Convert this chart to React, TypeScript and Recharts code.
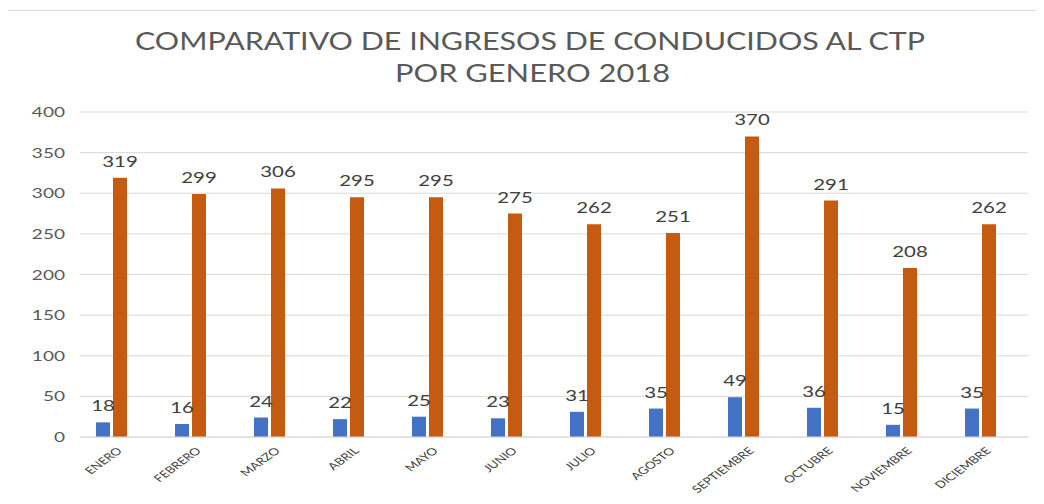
import React from 'react';
import { BarChart, Bar, XAxis, YAxis, CartesianGrid, LabelList } from 'recharts';

const meses = ['ENERO', 'FEBRERO', 'MARZO', 'ABRIL', 'MAYO', 'JUNIO', 'JULIO', 'AGOSTO', 'SEPTIEMBRE', 'OCTUBRE', 'NOVIEMBRE', 'DICIEMBRE'];
const mujeres = [18, 16, 24, 22, 25, 23, 31, 35, 49, 36, 15, 35];
const hombres = [319, 299, 306, 295, 295, 275, 262, 251, 370, 291, 208, 262];
const otros = [1, 1, 1, 1, 1, 1, 1, 1, 1, 1, 1, 1];
const yTicks = [0, 50, 100, 150, 200, 250, 300, 350, 400];

const data = meses.map((mes, i) => ({ mes, mujeres: mujeres[i], hombres: hombres[i], otros: otros[i] }));

const FONT = 'Lato, "Open Sans", sans-serif';
const STRETCH = 1.36;

const YTick = ({ x, y, payload }: any) => (
  <text
    transform={`translate(${x},${y}) scale(${STRETCH},1)`}
    textAnchor="end"
    dy="0.36em"
    fill="#595959"
    fontSize={14}
    fontFamily={FONT}
  >
    {payload.value}
  </text>
);

const XTick = ({ x, y, payload }: any) => (
  <text
    transform={`translate(${x},${y}) scale(${STRETCH},1) rotate(-45)`}
    textAnchor="end"
    dy="0.35em"
    fill="#404040"
    fontSize={10}
    fontFamily={FONT}
  >
    {payload.value}
  </text>
);

const ValueLabel = ({ x, y, width, value }: any) => {
  const cx = Number(x) + Number(width) / 2;
  const ty = Number(y) - 11;
  return (
    <text
      transform={`translate(${cx},${ty}) scale(${STRETCH},1)`}
      textAnchor="middle"
      fill="#404040"
      fontSize={15}
      fontFamily={FONT}
    >
      {value}
    </text>
  );
};

export default function App() {
  return (
    <div
      style={{
        position: 'relative',
        top: 2,
        left: -1,
        width: 1040,
        height: 500,
        border: '1px solid #D9D9D9',
        background: '#fff',
      }}
    >
      <svg width={1040} height={100} style={{ position: 'absolute', left: 0, top: 0 }}>
        <text x={127} y={39} textLength={790} lengthAdjust="spacingAndGlyphs" fill="#595959" fontSize={25} fontFamily={FONT}>
          COMPARATIVO DE INGRESOS DE CONDUCIDOS AL CTP
        </text>
        <text x={387} y={71} textLength={275} lengthAdjust="spacingAndGlyphs" fill="#595959" fontSize={25} fontFamily={FONT}>
          POR GENERO 2018
        </text>
      </svg>
      <BarChart
        width={1040}
        height={492}
        data={data}
        margin={{ top: 101, right: 20, left: 0, bottom: 26 }}
        barSize={14}
        barGap={3}
      >
        <CartesianGrid vertical={false} stroke="#D9D9D9" />
        <XAxis
          dataKey="mes"
          height={40}
          interval={0}
          tickLine={false}
          tickSize={0}
          tickMargin={12}
          axisLine={{ stroke: '#D9D9D9' }}
          tick={<XTick />}
        />
        <YAxis
          width={72}
          domain={[0, 400]}
          ticks={yTicks}
          axisLine={false}
          tickLine={false}
          tickSize={0}
          tickMargin={15}
          tick={<YTick />}
        />
        <Bar dataKey="mujeres" fill="#4472C4" isAnimationActive={false}>
          <LabelList dataKey="mujeres" content={<ValueLabel />} />
        </Bar>
        <Bar dataKey="hombres" fill="#C55A11" isAnimationActive={false}>
          <LabelList dataKey="hombres" content={<ValueLabel />} />
        </Bar>
        <Bar dataKey="otros" fill="#FCE9BE" isAnimationActive={false} />
      </BarChart>
    </div>
  );
}
